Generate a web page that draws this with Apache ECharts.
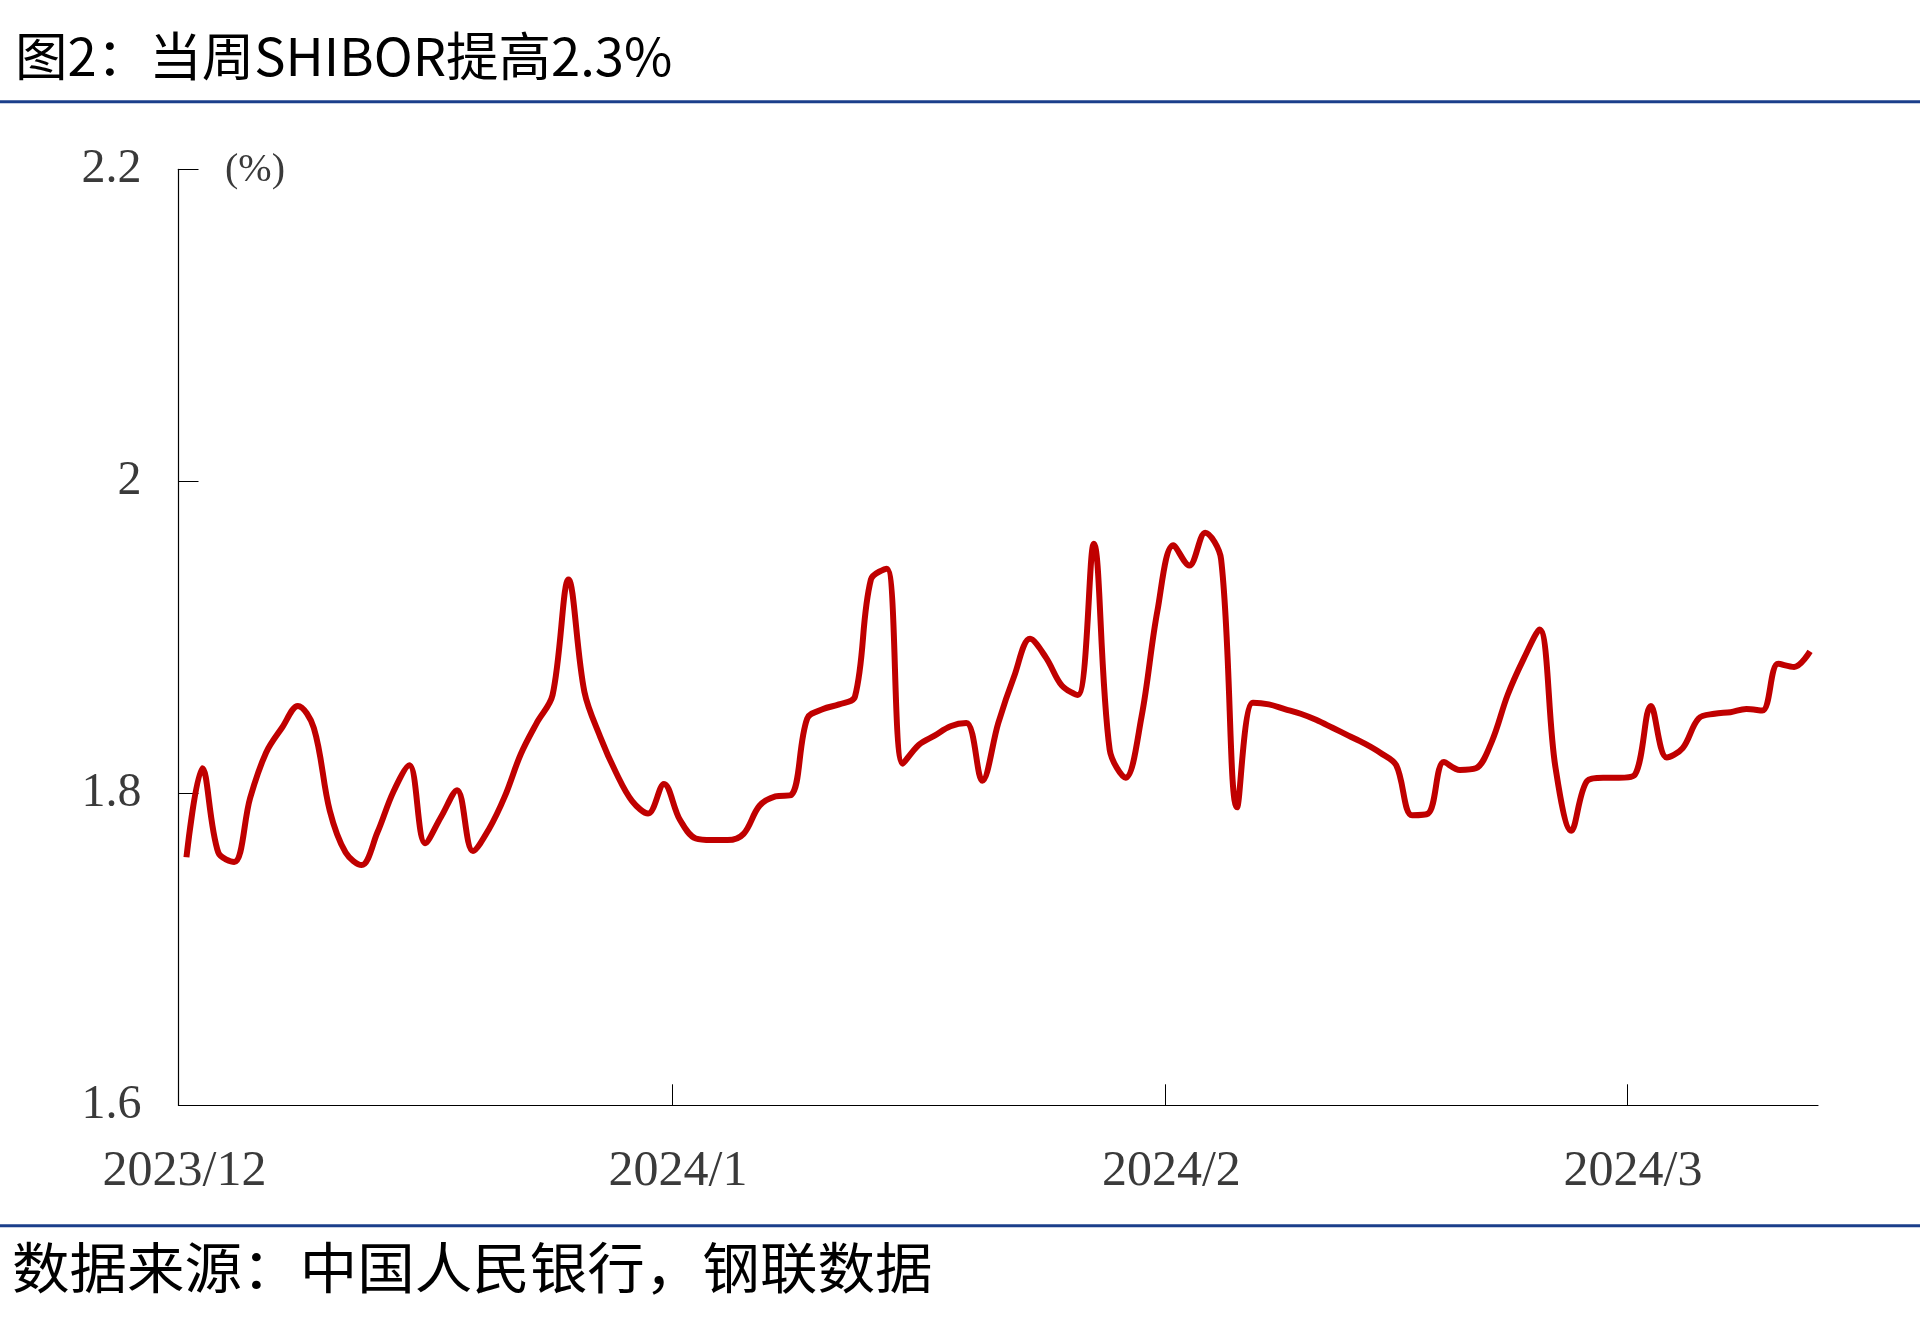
<!DOCTYPE html>
<html>
<head>
<meta charset="utf-8">
<script src="https://cdn.jsdelivr.net/npm/echarts@6/dist/echarts.min.js"></script>
<style>
html,body{margin:0;padding:0;background:#fff;}
#chart{width:1920px;height:1331px;}
</style>
</head>
<body>
<div id="chart"></div>
<script>
// ---- data ----
const startDate = '2023-12-01'; // daily series starts here
const shiborValues = [
  1.759, 1.816, 1.762, 1.756, 1.797, 1.826, 1.842, 1.856, 1.842, 1.789,
  1.762, 1.754, 1.775, 1.801, 1.818, 1.768, 1.785, 1.802, 1.763, 1.777,
  1.798, 1.825, 1.845, 1.863, 1.937, 1.865, 1.836, 1.813, 1.795, 1.787,
  1.806, 1.783, 1.771, 1.770, 1.770, 1.774, 1.792, 1.798, 1.799, 1.848,
  1.854, 1.857, 1.862, 1.937, 1.944, 1.819, 1.831, 1.837, 1.843, 1.845,
  1.808, 1.845, 1.875, 1.899, 1.887, 1.869, 1.863, 1.960, 1.828, 1.810,
  1.849, 1.917, 1.959, 1.946, 1.967, 1.950, 1.791, 1.858, 1.857, 1.854,
  1.851, 1.847, 1.842, 1.837, 1.832, 1.826, 1.818, 1.786, 1.787, 1.820,
  1.815, 1.816, 1.833, 1.863, 1.886, 1.905, 1.817, 1.776, 1.808, 1.810,
  1.810, 1.812, 1.856, 1.823, 1.829, 1.848, 1.851, 1.852, 1.854, 1.853,
  1.883, 1.881, 1.891
];
const monthTicks = ['2023-12-01', '2024-01-01', '2024-02-01', '2024-03-01'];
const monthLabels = ['2023/12', '2024/1', '2024/2', '2024/3'];
const axisEnd = '2024-03-13';
const yTicks = [1.6, 1.8, 2.0, 2.2];
const titleText = '图2：当周SHIBOR提高2.3%';
const sourceText = '数据来源：中国人民银行，钢联数据';
const unitText = '(%)';

// ---- build (x measured in days since startDate) ----
const DAY = 86400000;
function dayIndex(s) { return Math.round((Date.parse(s + 'T00:00:00Z') - Date.parse(startDate + 'T00:00:00Z')) / DAY); }
const seriesData = shiborValues.map((v, i) => [i + 0.5, v]); // each day's point sits mid-day
const tickDays = monthTicks.map(dayIndex);
const labelMap = {};
tickDays.forEach((d, i) => { labelMap[d] = monthLabels[i]; });

const chart = echarts.init(document.getElementById('chart'), null, { renderer: 'canvas' });
chart.setOption({
  animation: false,
  backgroundColor: '#ffffff',
  grid: { left: 178.5, right: 102, top: 169.3, bottom: 225.7, containLabel: false },
  xAxis: {
    type: 'value',
    min: 0,
    max: dayIndex(axisEnd),
    splitLine: { show: false },
    axisLine: { show: true, lineStyle: { color: '#000', width: 1.2 } },
    axisTick: { show: true, inside: true, length: 21, customValues: tickDays.slice(1), lineStyle: { color: '#000', width: 1 } },
    axisLabel: {
      customValues: tickDays,
      formatter: function (v) { return labelMap[Math.round(v)] || ''; },
      fontFamily: 'Liberation Serif',
      fontSize: 50,
      color: '#3a3a3a',
      margin: 42,
      padding: [0, 0, 0, 12],
      showMinLabel: true,
      showMaxLabel: true
    }
  },
  yAxis: {
    type: 'value',
    min: yTicks[0],
    max: yTicks[yTicks.length - 1],
    interval: 0.2,
    splitLine: { show: false },
    axisLine: { show: true, lineStyle: { color: '#000', width: 1.2 } },
    axisTick: { show: true, inside: true, length: 20, lineStyle: { color: '#000', width: 1 } },
    axisLabel: {
      fontFamily: 'Liberation Serif',
      fontSize: 48,
      color: '#3a3a3a',
      margin: 37,
      padding: [8, 0, 0, 0],
      formatter: function (v) { return String(Math.round(v * 10) / 10); }
    }
  },
  series: [{
    type: 'line',
    data: seriesData,
    smooth: 0.35,
    showSymbol: false,
    symbol: 'none',
    lineStyle: { color: '#C00000', width: 6 },
    clip: false
  }],
  graphic: [
    { type: 'rect', shape: { x: 0, y: 100.2, width: 1920, height: 3 }, style: { fill: '#1b3f8b' }, silent: true },
    { type: 'rect', shape: { x: 0, y: 1224.2, width: 1920, height: 3 }, style: { fill: '#1b3f8b' }, silent: true },
    { type: 'text', x: 15, y: 56, scaleX: 1.01, style: { text: titleText, fill: '#000', fontSize: 52, fontFamily: 'Noto Sans CJK SC', verticalAlign: 'middle', align: 'left' } },
    { type: 'text', x: 12, y: 1267, scaleX: 1.046, style: { text: sourceText, fill: '#000', fontSize: 55, fontFamily: 'Noto Sans CJK SC', verticalAlign: 'middle', align: 'left' } },
    { type: 'text', x: 225, y: 170, style: { text: unitText, fill: '#3a3a3a', fontSize: 40, fontFamily: 'Liberation Serif', verticalAlign: 'middle', align: 'left' } }
  ]
});
</script>
</body>
</html>
